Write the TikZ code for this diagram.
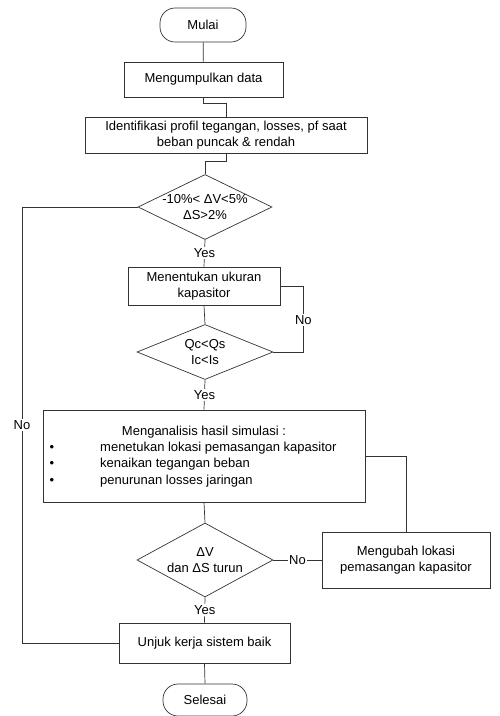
\documentclass[tikz,border=0pt]{standalone}
\usepackage{fontspec}
\setmainfont{Liberation Sans}
\usetikzlibrary{shapes.geometric,calc}
\begin{document}
\begin{tikzpicture}[x=1pt,y=-1pt,
  every node/.style={font=\fontsize{13}{16}\selectfont, text=black},
  line/.style={draw=black!80, line width=0.7pt},
  procbox/.style={line, rectangle, inner sep=0pt, align=center},
  term/.style={line, rectangle, rounded corners=15pt, inner sep=0pt},
  dec/.style={line, diamond, inner sep=0pt},
  lbl/.style={fill=white, inner sep=1.5pt}
]
\useasboundingbox (0,0) rectangle (499,716);
% nodes
\node[term, minimum width=86pt, minimum height=34pt] (mulai) at (203,25) {Mulai};
\node[procbox, minimum width=159pt, minimum height=35pt] (kumpul) at (203.5,79.5) {Mengumpulkan data};
\node[procbox, minimum width=282pt, minimum height=36pt] (ident) at (226,135) {Identifikasi profil tegangan, losses, pf saat\\beban puncak \& rendah};
\node[dec, minimum width=134pt, minimum height=65pt] (d1) at (205,207) {};
\node[align=center, inner sep=0pt] (d1t) at (205,207) {-10\%< ΔV<5\%\\ΔS>2\%};
\node[procbox, minimum width=152pt, minimum height=38pt] (ukuran) at (204,286) {Menentukan ukuran\\kapasitor};
\node[dec, minimum width=136pt, minimum height=55pt] (d2) at (205,352) {};
\node[align=center, inner sep=0pt] (d2t) at (205,352) {Qc<Qs\\Ic<Is};
\node[procbox, minimum width=322pt, minimum height=92pt] (analisis) at (204,456) {};
\node (antitle) at (204,432) {Menganalisis hasil simulasi :};
\node (b1) at (52,448) {•};
\node (b2) at (52,464) {•};
\node (b3) at (52,481) {•};
\node[anchor=west, inner sep=0pt] (t1) at (100,448) {menetukan lokasi pemasangan kapasitor};
\node[anchor=west, inner sep=0pt] (t2) at (100,464) {kenaikan tegangan beban};
\node[anchor=west, inner sep=0pt] (t3) at (100,481) {penurunan losses jaringan};
\node[dec, minimum width=136pt, minimum height=74pt] (d3) at (205,560) {};
\node[align=center, inner sep=0pt] (d3t) at (205,560) {ΔV\\dan ΔS turun};
\node[procbox, minimum width=168pt, minimum height=56pt] (ubah) at (406,560) {Mengubah lokasi\\pemasangan kapasitor};
\node[procbox, minimum width=171pt, minimum height=40pt] (unjuk) at (204.5,643) {Unjuk kerja sistem baik};
\node[term, minimum width=84pt, minimum height=32pt] (selesai) at (205,700) {Selesai};
\coordinate (nocorner) at (22,207);
% connectors
\draw[line] (mulai) -- (kumpul);
\draw[line] (kumpul.south) -- ++(0,6) -| (ident.north);
\draw[line] (ident.south) -- ++(0,8) -| (d1.north);
\draw[line] (d1.south) -- node[lbl] {Yes} (ukuran.north);
\draw[line] (ukuran.south) -- (d2.north);
\draw[line] (d2.east) -- ++(30,0) |- node[lbl, pos=0.24] {No} (ukuran.east);
\draw[line] (d2.south) -- node[lbl] {Yes} (analisis.north);
\draw[line] (analisis.south) -- (d3.north);
\draw[line] (analisis.east) -| (ubah.north);
\draw[line] (d3.east) -- node[lbl] {No} (ubah.west);
\draw[line] (d3.south) -- node[lbl] {Yes} (unjuk.north);
\draw[line] (unjuk.south) -- (selesai.north);
\draw[line] (d1.west) -- (nocorner) |- node[lbl, pos=0.25] {No} (unjuk.west);
\end{tikzpicture}
\end{document}
